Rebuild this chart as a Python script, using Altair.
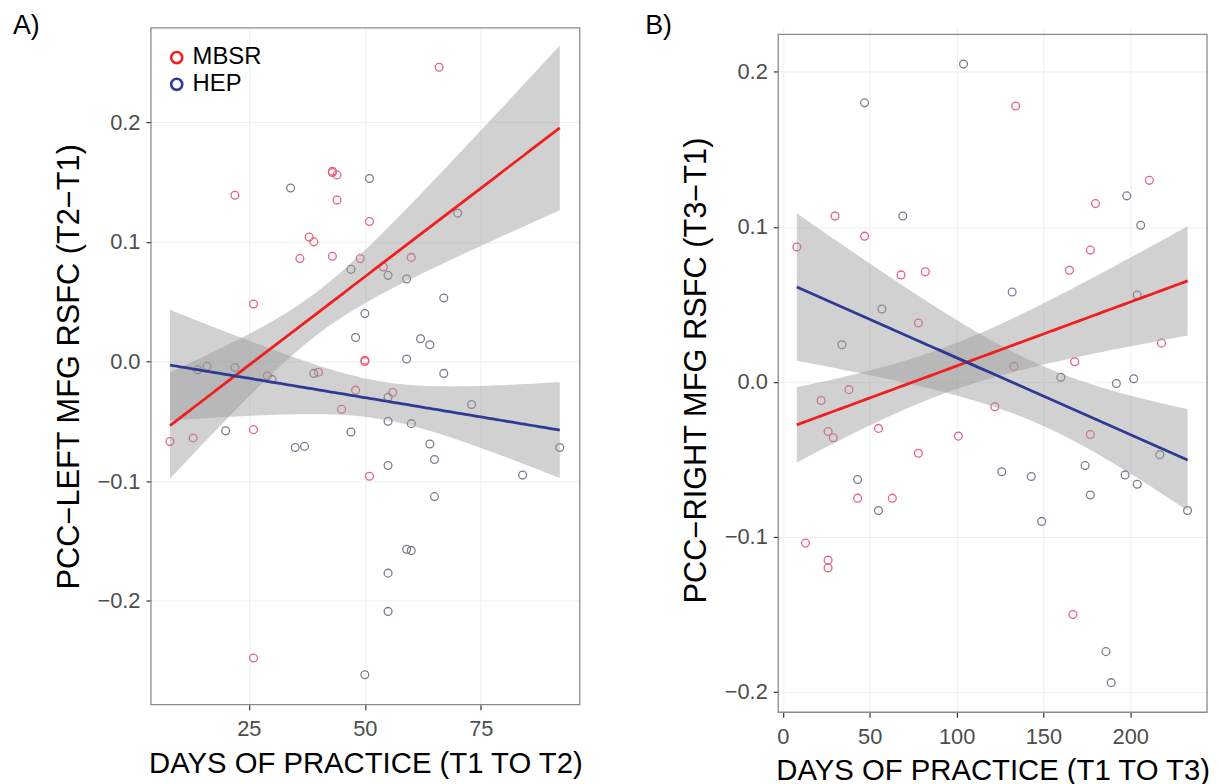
import altair as alt
import numpy as np
import pandas as pd

GROUPS = ["MBSR", "HEP"]

# ---- Panel A: days of practice T1->T2 vs PCC-left MFG RSFC (T2-T1)
a_mbsr_days = [66, 22, 43, 43, 44, 44, 51, 38, 39, 36, 43, 49, 60, 54, 26, 50, 50,
               16, 29, 40, 48, 56, 45, 8, 13, 26, 51, 26]
a_mbsr_vals = [0.246, 0.139, 0.159, 0.158, 0.156, 0.135, 0.117, 0.104, 0.100, 0.086,
               0.088, 0.086, 0.087, 0.079, 0.048, 0.000, 0.001, -0.004, -0.012, -0.009,
               -0.024, -0.026, -0.040, -0.067, -0.064, -0.057, -0.096, -0.248]
a_hep_days = [34, 51, 47, 55, 59, 67, 50, 48, 62, 64, 59, 70,
              14, 22, 30, 39, 67, 55, 73, 20, 35, 37, 47, 55, 60, 64, 65, 92,
              55, 84, 65, 59, 60, 55, 55, 50]
a_hep_vals = [0.145, 0.153, 0.077, 0.072, 0.069, 0.053, 0.040, 0.020, 0.019, 0.014, 0.002, 0.124,
              -0.007, -0.005, -0.015, -0.010, -0.010, -0.030, -0.036, -0.058, -0.072, -0.071,
              -0.059, -0.050, -0.052, -0.069, -0.082, -0.072, -0.087, -0.095, -0.113,
              -0.157, -0.158, -0.177, -0.209, -0.262]

# ---- Panel B: days of practice T1->T3 vs PCC-right MFG RSFC (T3-T1)
b_mbsr_days = [134, 211, 180, 30, 47, 8, 177, 165, 82, 68, 78, 218, 168, 133, 22, 38,
               26, 29, 55, 101, 78, 122, 177, 43, 63, 13, 26, 26, 167]
b_mbsr_vals = [0.178, 0.130, 0.115, 0.107, 0.094, 0.087, 0.085, 0.072, 0.071, 0.069,
               0.038, 0.025, 0.013, 0.010, -0.012, -0.005, -0.032, -0.036, -0.030,
               -0.035, -0.046, -0.016, -0.034, -0.075, -0.075, -0.104, -0.115, -0.120,
               -0.150]
b_hep_days = [104, 47, 69, 198, 206, 132, 204, 57, 34, 160, 192, 202, 217, 174, 126,
              143, 197, 204, 177, 43, 55, 149, 233, 186, 189]
b_hep_vals = [0.205, 0.180, 0.107, 0.120, 0.101, 0.058, 0.056, 0.047, 0.024, 0.003,
              -0.001, 0.002, -0.047, -0.054, -0.058, -0.061, -0.060, -0.066, -0.073,
              -0.063, -0.083, -0.090, -0.083, -0.174, -0.194]

a_x_ticks = [25, 50, 75]
b_x_ticks = [0, 50, 100, 150, 200]
y_ticks = [-0.2, -0.1, 0.0, 0.1, 0.2]

LINE_COLORS = ["#F01E1E", "#2E3A94"]
POINT_COLORS = {"MBSR": "#E55A78", "HEP": "#74778A"}
FONT = "Liberation Sans"
W = 432


def fit(days, vals, lo, hi, group, n=100):
    """Least-squares line over [lo, hi] with a +/- 1 standard-error band."""
    x = np.asarray(days, float)
    y = np.asarray(vals, float)
    b1, b0 = np.polyfit(x, y, 1)
    grid = np.linspace(lo, hi, n)
    pred = b0 + b1 * grid
    resid = y - (b0 + b1 * x)
    s = np.sqrt((resid ** 2).sum() / (len(x) - 2))
    se = s * np.sqrt(1 / len(x) + (grid - x.mean()) ** 2 / ((x - x.mean()) ** 2).sum())
    return pd.DataFrame({"day": grid, "fit": pred, "lo": pred - se,
                         "hi": pred + se, "group": group})


def panel(md, mv, hd, hv, xdom, ydom, xticks, xtitle, ytitle, label, ldx, ldy,
          height, top_gap, show_legend):
    pts = pd.concat([
        pd.DataFrame({"day": md, "val": mv, "group": "MBSR"}),
        pd.DataFrame({"day": hd, "val": hv, "group": "HEP"}),
    ])
    lo, hi = min(md + hd), max(md + hd)
    fits = pd.concat([fit(md, mv, lo, hi, "MBSR"), fit(hd, hv, lo, hi, "HEP")])

    # the panel frame starts top_gap px below the view top (panel B sits lower)
    full_h = height + top_gap
    ytop = ydom[1] + top_gap * (ydom[1] - ydom[0]) / height
    xs = alt.Scale(domain=xdom, nice=False, zero=False)
    ys = alt.Scale(domain=[ydom[0], ytop], nice=False, zero=False)
    xa = alt.Axis(values=xticks, title=xtitle, titlePadding=10, labelPadding=9,
                  titleFontSize=29.5)
    ya = alt.Axis(values=y_ticks, format=".1f", title=ytitle, titlePadding=12,
                  labelPadding=6, titleFontSize=31)
    X = alt.X("day:Q", scale=xs, axis=xa)

    point_layers = []
    for g in GROUPS:
        point_layers.append(
            alt.Chart(pts).transform_filter(alt.datum.group == g).mark_point(
                shape="circle", filled=False, size=62, strokeWidth=1.3,
                color=POINT_COLORS[g], opacity=0.95
            ).encode(x=X, y=alt.Y("val:Q", scale=ys, axis=ya))
        )
    band = alt.Chart(fits).mark_area(color="#999999", opacity=0.45, clip=True).encode(
        x=X, y=alt.Y("lo:Q", scale=ys, axis=ya), y2="hi:Q", detail="group:N",
    )
    if show_legend:
        leg = alt.Legend(title=None, orient="none", legendX=14, legendY=18,
                         symbolType="circle", symbolSize=125, symbolStrokeWidth=2.6,
                         symbolFillColor="transparent", labelFont=FONT,
                         labelFontSize=24, labelColor="black", rowPadding=3,
                         labelOffset=4, padding=0)
    else:
        leg = None
    line = alt.Chart(fits).mark_line(strokeWidth=2.8, clip=True).encode(
        x=X, y=alt.Y("fit:Q", scale=ys, axis=ya),
        color=alt.Color("group:N", scale=alt.Scale(domain=GROUPS, range=LINE_COLORS),
                        legend=leg),
    )
    frame = alt.Chart(pd.DataFrame({"f": [0]})).mark_rect(
        fill="transparent", stroke="#8A8A8A", strokeWidth=1.3
    ).encode(x=alt.value(0), x2=alt.value(W), y=alt.value(top_gap), y2=alt.value(full_h))
    lab = alt.Chart(pd.DataFrame({"t": [label]})).mark_text(
        align="left", baseline="top", fontSize=27, font=FONT, color="black"
    ).encode(text="t:N", x=alt.value(ldx), y=alt.value(ldy))

    return alt.layer(*point_layers, band, line, frame, lab).properties(
        width=W, height=full_h, view=alt.ViewBackground(stroke="transparent"))


chart_a = panel(a_mbsr_days, a_mbsr_vals, a_hep_days, a_hep_vals,
                [3.9, 96.3], [-0.287, 0.279], a_x_ticks,
                "DAYS OF PRACTICE (T1 TO T2)", "PCC\u2212LEFT MFG RSFC (T2\u2212T1)",
                "A)", -139, -14.7, 682, 0, True)
chart_b = panel(b_mbsr_days, b_mbsr_vals, b_hep_days, b_hep_vals,
                [-2.7, 244.2], [-0.2131, 0.2242], b_x_ticks,
                "DAYS OF PRACTICE (T1 TO T3)", "PCC\u2212RIGHT MFG RSFC (T3\u2212T1)",
                "B)", -134, -14.7, 683, 6.6, False)

chart = alt.hconcat(chart_a, chart_b, spacing=61).resolve_scale(
    x="independent", y="independent", color="independent"
).resolve_legend(color="independent").properties(
    padding={"left": 4, "top": 0, "right": 0, "bottom": 0}
).configure_axis(
    labelFont=FONT, labelFontSize=22, labelColor="#4D4D4D", labelFlush=False,
    titleFont=FONT, titleFontWeight="normal", titleColor="black",
    tickColor="#333333", tickSize=5, tickWidth=1.2, domain=False,
    gridColor="#EFEFEF", gridWidth=1,
)

chart.save("out.html", embed_options={"renderer": "svg", "actions": False})
